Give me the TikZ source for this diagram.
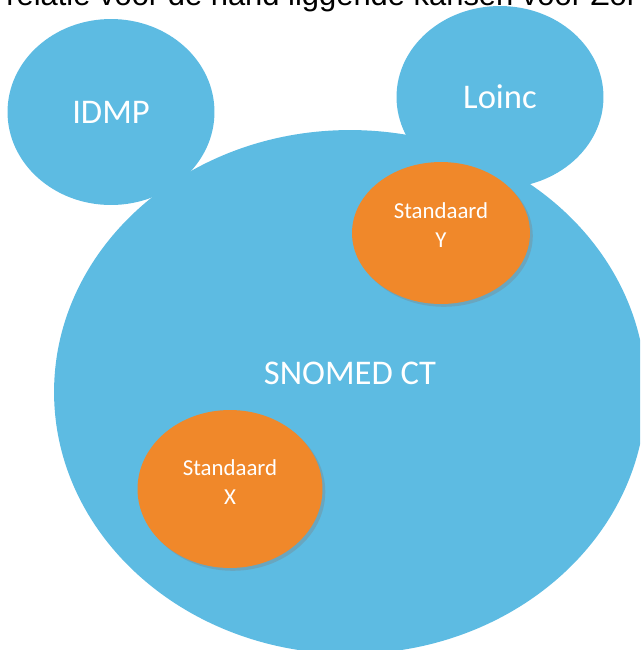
\documentclass[tikz,border=0pt]{standalone}
\usepackage{fontspec}
\setmainfont{Carlito}
\newfontfamily\bodyfont{Liberation Sans}
\usetikzlibrary{shapes.geometric,shadows}
\definecolor{setblue}{RGB}{93,187,226}
\definecolor{setorange}{RGB}{240,136,42}

\begin{document}
\begin{tikzpicture}[x=0.02cm, y=-0.02cm,
    set node/.style={ellipse, fill=setblue, inner sep=0pt, text=white, font=\fontsize{19.7}{22}\selectfont},
    std node/.style={ellipse, fill=setorange, inner sep=0pt,
        drop shadow={shadow xshift=1.6pt, shadow yshift=-1.6pt, opacity=0.35}},
    std label/.style={inner sep=0pt, text=white, align=center, font=\fontsize{13}{16.5}\selectfont}]
        \useasboundingbox (0,0) rectangle (640,650);
        \clip (0,0) rectangle (640,650);

          % cut-off line of the surrounding text
          \node[anchor=base west, inner sep=0pt, font=\bodyfont\fontsize{17.6}{20}\selectfont] (intro) at (6,5)
            {relatie voor de hand liggende kansen voor Zor};

          \node[set node, minimum width=4.14cm, minimum height=3.72cm] (idmp) at (111,112) {IDMP};
          \node[set node, minimum width=4.14cm, minimum height=3.64cm] (loinc) at (500,97) {Loinc};
          \node[set node, minimum width=11.84cm, minimum height=10.48cm] (snomed) at (350,392) {};
          \node[inner sep=0pt, text=white, font=\fontsize{19.7}{22}\selectfont] (snomedlabel) at (350,373) {SNOMED CT};

          \node[std node, minimum width=3.56cm, minimum height=2.84cm] (stdy) at (441,233) {};
          \node[std label] (stdylabel) at (441,225) {Standaard\\Y};
          \node[std node, minimum width=3.7cm, minimum height=3.16cm] (stdx) at (230,489) {};
          \node[std label] (stdxlabel) at (230,482) {Standaard\\X};

        \end{tikzpicture}
\end{document}
